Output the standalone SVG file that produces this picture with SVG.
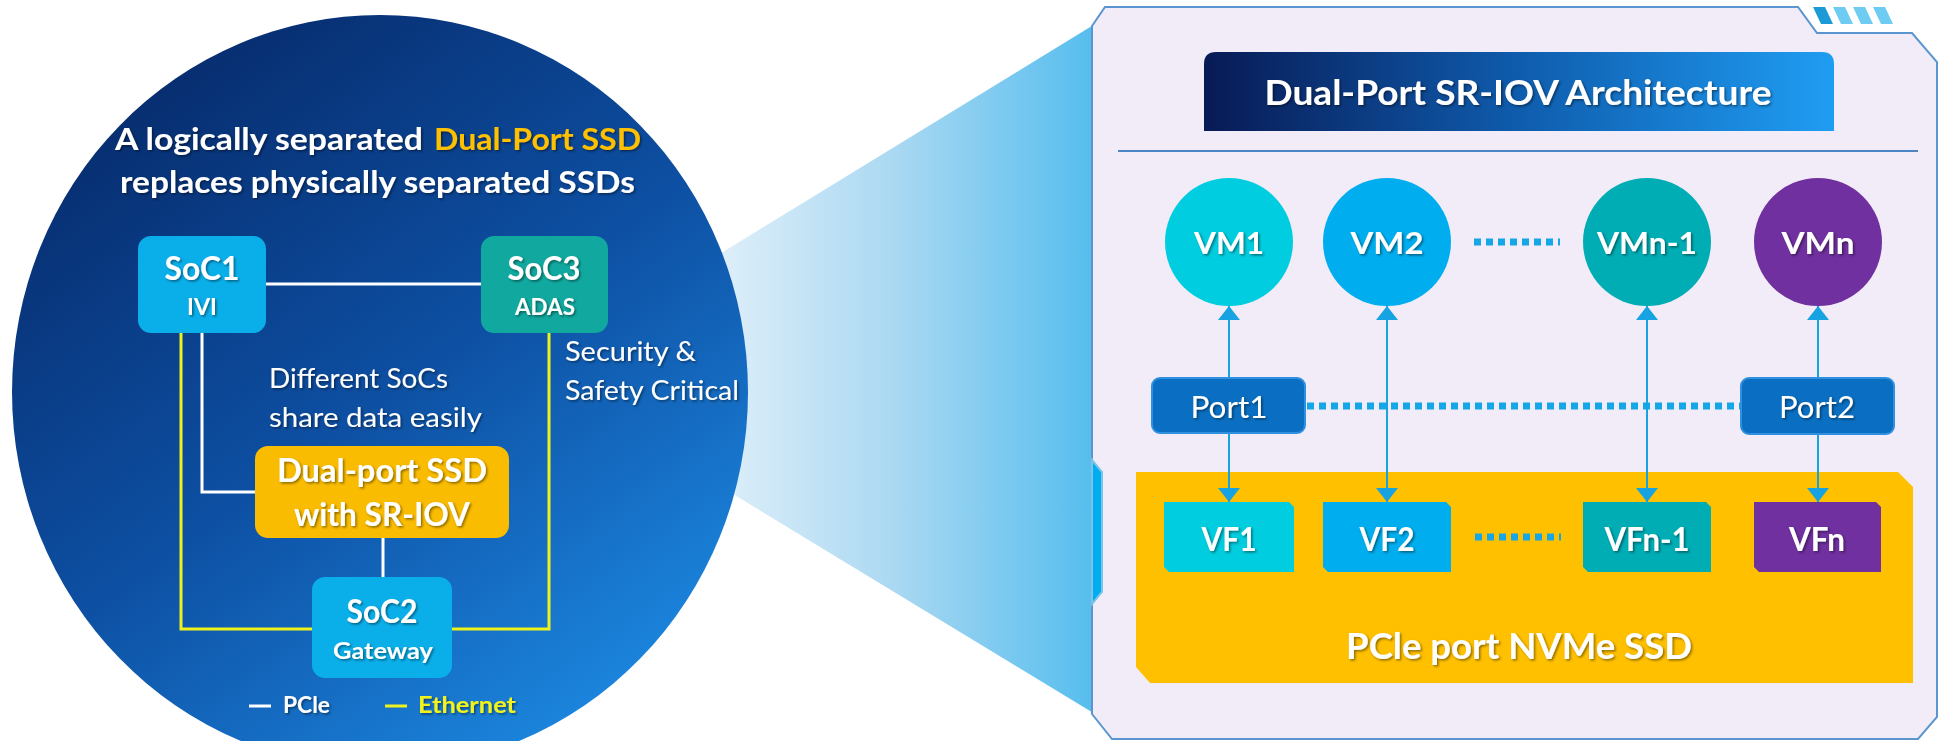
<svg xmlns="http://www.w3.org/2000/svg" width="1939" height="741" viewBox="0 0 1939 741">
<defs>
<linearGradient id="gCircle" x1="0.15" y1="0" x2="0.85" y2="1">
<stop offset="0" stop-color="#062766"/>
<stop offset="0.5" stop-color="#0d4fa2"/>
<stop offset="1" stop-color="#1e8fe8"/>
</linearGradient>
<linearGradient id="gFunnel" x1="0" y1="0" x2="1" y2="0">
<stop offset="0" stop-color="#e4f1fa"/>
<stop offset="0.5" stop-color="#a9d8f2"/>
<stop offset="1" stop-color="#55bdee"/>
</linearGradient>
<linearGradient id="gTitle" x1="0" y1="0" x2="1" y2="0">
<stop offset="0" stop-color="#081a55"/>
<stop offset="0.5" stop-color="#0f5cad"/>
<stop offset="1" stop-color="#1f9df2"/>
</linearGradient>
<filter id="sh" x="-10%" y="-20%" width="130%" height="160%">
<feDropShadow dx="1.5" dy="1.5" stdDeviation="1" flood-color="#000" flood-opacity="0.45"/>
</filter>
<marker id="ah" viewBox="0 0 14 22" refX="14" refY="11" markerWidth="14" markerHeight="22" markerUnits="userSpaceOnUse" orient="auto-start-reverse">
<path d="M0,0 L14,11 L0,22 Z" fill="#17a3e2"/>
</marker>
<style>
.b{font-family:Lato,"Open Sans","Liberation Sans",sans-serif;font-weight:700;fill:#fff;}
.r{font-family:Lato,"Open Sans","Liberation Sans",sans-serif;font-weight:400;fill:#fff;}
.c{text-anchor:middle;}
.sh{filter:url(#sh);}
.pcie{stroke:#fff;stroke-width:3;fill:none;}
.eth{stroke:#eef21a;stroke-width:3;fill:none;}
.arr{stroke:#17a3e2;stroke-width:2;fill:none;marker-start:url(#ah);marker-end:url(#ah);}
.dots{stroke:#14a6e6;stroke-width:7;stroke-dasharray:7 5;fill:none;}
.port{fill:#0a6fc2;stroke:#2e90de;stroke-width:2;}
</style>
</defs>

<!-- funnel -->
<polygon points="700,266 1095,24 1095,714 700,474" fill="url(#gFunnel)"/>

<!-- left circle -->
<ellipse cx="380" cy="392" rx="368" ry="377" fill="url(#gCircle)"/>
<g id="heading">
<text class="b sh" x="115" y="150" font-size="31" textLength="308" lengthAdjust="spacingAndGlyphs">A logically separated</text>
<text class="b sh" x="434" y="150" font-size="31" textLength="207" lengthAdjust="spacingAndGlyphs" style="fill:#ffc000">Dual-Port SSD</text>
<text class="b sh" x="120" y="193" font-size="31" textLength="515" lengthAdjust="spacingAndGlyphs">replaces physically separated SSDs</text>
</g>

<g id="left-connectors">
<line class="pcie" x1="266" y1="284" x2="481" y2="284"/>
<polyline class="pcie" points="202,333 202,492 256,492"/>
<line class="pcie" x1="383" y1="538" x2="383" y2="577"/>
<polyline class="eth" points="181,333 181,629 312,629"/>
<polyline class="eth" points="549,333 549,629 452,629"/>
</g>

<g id="soc1">
<rect x="138" y="236" width="128" height="97" rx="13" fill="#0aafea"/>
<text class="b c sh" x="202" y="280" font-size="32" textLength="75" lengthAdjust="spacingAndGlyphs">SoC1</text>
<text class="b c sh" x="202" y="315" font-size="23" textLength="30" lengthAdjust="spacingAndGlyphs">IVI</text>
</g>
<g id="soc3">
<rect x="481" y="236" width="127" height="97" rx="13" fill="#11a99f"/>
<text class="b c sh" x="544" y="280" font-size="32" textLength="73" lengthAdjust="spacingAndGlyphs">SoC3</text>
<text class="b c sh" x="545" y="315" font-size="23" textLength="60" lengthAdjust="spacingAndGlyphs">ADAS</text>
</g>
<g id="ssd-dual">
<rect x="255" y="446" width="254" height="92" rx="13" fill="#fabc00"/>
<text class="b c sh" x="382" y="482" font-size="33" textLength="210" lengthAdjust="spacingAndGlyphs">Dual-port SSD</text>
<text class="b c sh" x="382" y="526" font-size="33" textLength="176" lengthAdjust="spacingAndGlyphs">with SR-IOV</text>
</g>
<g id="soc2">
<rect x="312" y="577" width="140" height="101" rx="13" fill="#0aafea"/>
<text class="b c sh" x="382" y="623" font-size="32" textLength="71" lengthAdjust="spacingAndGlyphs">SoC2</text>
<text class="b c sh" x="383" y="659" font-size="23" textLength="100" lengthAdjust="spacingAndGlyphs">Gateway</text>
</g>
<g id="notes">
<text class="r sh" x="269" y="388" font-size="27" textLength="179" lengthAdjust="spacingAndGlyphs">Different SoCs</text>
<text class="r sh" x="269" y="427" font-size="27" textLength="213" lengthAdjust="spacingAndGlyphs">share data easily</text>
<text class="r sh" x="565" y="361" font-size="27" textLength="131" lengthAdjust="spacingAndGlyphs">Security &amp;</text>
<text class="r sh" x="565" y="400" font-size="27" textLength="174" lengthAdjust="spacingAndGlyphs">Safety Critical</text>
</g>
<g id="legend">
<line x1="249" y1="706" x2="271" y2="706" stroke="#fff" stroke-width="3"/>
<text class="b sh" x="283" y="713" font-size="23" textLength="47" lengthAdjust="spacingAndGlyphs">PCle</text>
<line x1="385" y1="706" x2="407" y2="706" stroke="#eef21a" stroke-width="3"/>
<text class="b sh" x="418" y="713" font-size="23" textLength="98" lengthAdjust="spacingAndGlyphs" style="fill:#f2f21a">Ethernet</text>
</g>

<!-- right panel -->
<g id="panel">
<path d="M1105,7 H1798 L1817,33 H1912 L1937,62 V717 L1918,739 H1112 L1092,714 V26 Z" fill="#f1ecf7" stroke="#5b95cf" stroke-width="2"/>
<polygon points="1092,460 1102,472 1102,592 1092,604" fill="#00aeef" stroke="#7cc3ea" stroke-width="2"/>
<polygon points="1813,7 1825,7 1833,24 1821,24" fill="#1b9ad6"/>
<polygon points="1833,7 1845,7 1853,24 1841,24" fill="#6ecbf2"/>
<polygon points="1853,7 1865,7 1873,24 1861,24" fill="#6ecbf2"/>
<polygon points="1873,7 1885,7 1893,24 1881,24" fill="#6ecbf2"/>
<line x1="1118" y1="151" x2="1918" y2="151" stroke="#4a86c5" stroke-width="2"/>
</g>
<g id="title">
<path d="M1204,131 V64 Q1204,52 1216,52 H1822 Q1834,52 1834,64 V131 Z" fill="url(#gTitle)"/>
<text class="b c sh" x="1518" y="105" font-size="35" textLength="507" lengthAdjust="spacingAndGlyphs">Dual-Port SR-IOV Architecture</text>
</g>

<g id="ssd-nvme">
<path d="M1136,472 H1898 L1913,487 V683 H1150 L1136,667 Z" fill="#ffc000"/>
<text class="b c sh" x="1519" y="659" font-size="36" textLength="346" lengthAdjust="spacingAndGlyphs">PCle port NVMe SSD</text>
</g>

<g id="connectors">
<line class="arr" x1="1229" y1="306" x2="1229" y2="502"/>
<line class="arr" x1="1387" y1="306" x2="1387" y2="502"/>
<line class="arr" x1="1647" y1="306" x2="1647" y2="502"/>
<line class="arr" x1="1818" y1="306" x2="1818" y2="502"/>
<line class="dots" x1="1474" y1="242" x2="1560" y2="242"/>
<line class="dots" x1="1307" y1="406" x2="1740" y2="406"/>
<line class="dots" x1="1475" y1="537" x2="1561" y2="537"/>
</g>

<g id="vm1"><circle cx="1229" cy="242" r="64" fill="#00cddf"/><text class="b c sh" x="1229" y="254" font-size="31" textLength="70" lengthAdjust="spacingAndGlyphs">VM1</text></g>
<g id="vm2"><circle cx="1387" cy="242" r="64" fill="#00aeef"/><text class="b c sh" x="1387" y="254" font-size="31" textLength="73" lengthAdjust="spacingAndGlyphs">VM2</text></g>
<g id="vmn-1"><circle cx="1647" cy="242" r="64" fill="#00adb5"/><text class="b c sh" x="1647" y="254" font-size="31" textLength="100" lengthAdjust="spacingAndGlyphs">VMn-1</text></g>
<g id="vmn"><circle cx="1818" cy="242" r="64" fill="#7030a0"/><text class="b c sh" x="1818" y="254" font-size="31" textLength="73" lengthAdjust="spacingAndGlyphs">VMn</text></g>

<g id="port1"><rect class="port" x="1152" y="378" width="153" height="55" rx="8"/><text class="r c sh" x="1229" y="418" font-size="31" textLength="77" lengthAdjust="spacingAndGlyphs">Port1</text></g>
<g id="port2"><rect class="port" x="1741" y="378" width="153" height="56" rx="8"/><text class="r c sh" x="1817" y="418" font-size="31" textLength="76" lengthAdjust="spacingAndGlyphs">Port2</text></g>

<g id="vf1"><path d="M1164,502 H1289 L1294,507 V572 H1169 L1164,567 Z" fill="#00cddf"/><text class="b c sh" x="1229" y="551" font-size="32" textLength="55" lengthAdjust="spacingAndGlyphs">VF1</text></g>
<g id="vf2"><path d="M1323,502 H1446 L1451,507 V572 H1328 L1323,567 Z" fill="#00aeef"/><text class="b c sh" x="1387" y="551" font-size="32" textLength="55" lengthAdjust="spacingAndGlyphs">VF2</text></g>
<g id="vfn-1"><path d="M1583,502 H1706 L1711,507 V572 H1588 L1583,567 Z" fill="#00adb5"/><text class="b c sh" x="1647" y="551" font-size="32" textLength="85" lengthAdjust="spacingAndGlyphs">VFn-1</text></g>
<g id="vfn"><path d="M1754,502 H1876 L1881,507 V572 H1759 L1754,567 Z" fill="#7030a0"/><text class="b c sh" x="1817" y="551" font-size="32" textLength="56" lengthAdjust="spacingAndGlyphs">VFn</text></g>
</svg>
